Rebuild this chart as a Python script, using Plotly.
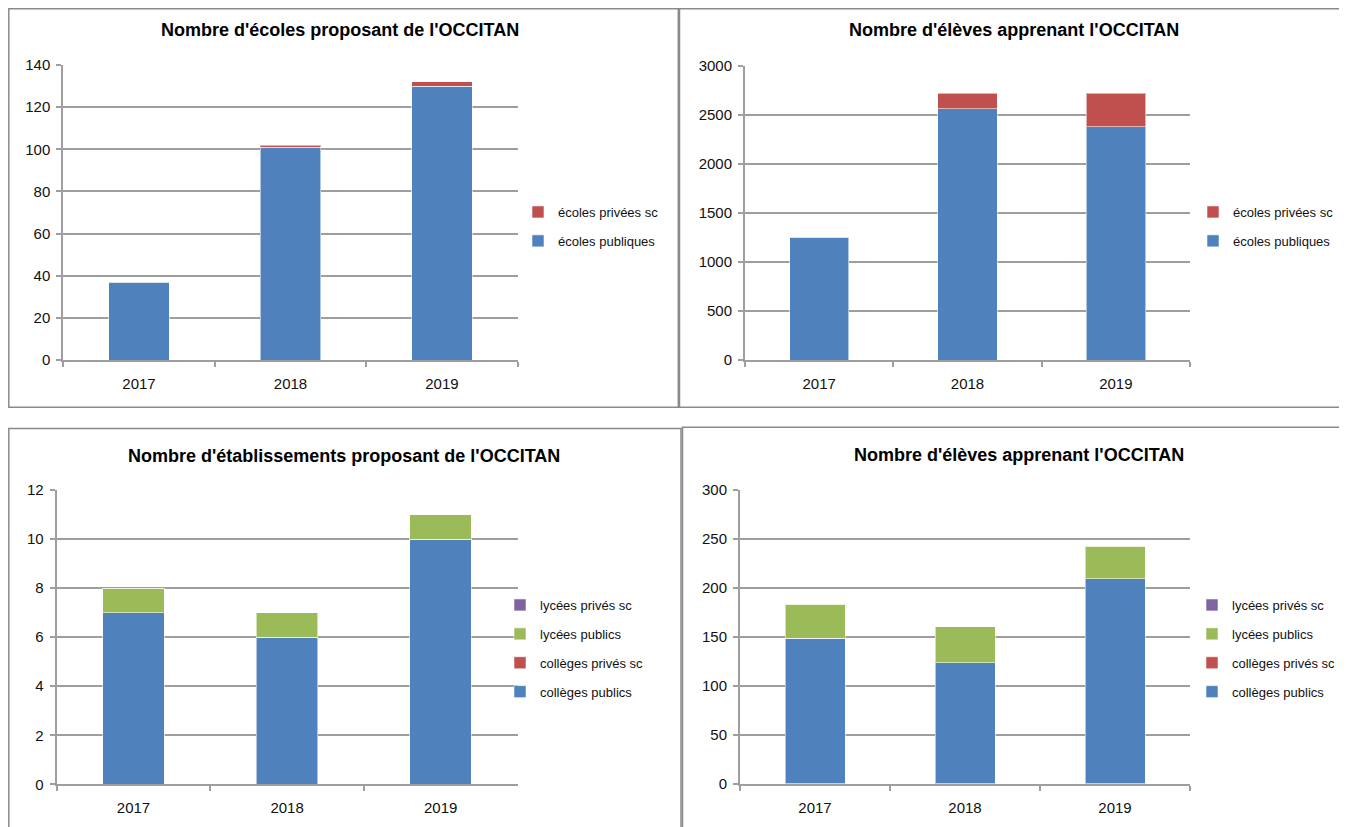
import plotly.graph_objects as go

years = ["2017", "2018", "2019"]

# Panel 1: schools offering Occitan
ecoles_publiques_nb = [37, 101, 130]
ecoles_privees_nb = [0, 1, 2]

# Panel 2: pupils (primary)
eleves_ecoles_publiques = [1250, 2562, 2378]
eleves_ecoles_privees = [0, 157, 341]

# Panel 3: secondary establishments
colleges_publics_nb = [7, 6, 10]
colleges_prives_nb = [0, 0, 0]
lycees_publics_nb = [1, 1, 1]
lycees_prives_nb = [0, 0, 0]

# Panel 4: secondary pupils
eleves_colleges_publics = [148, 123, 209]
eleves_colleges_prives = [0, 0, 0]
eleves_lycees_publics = [35, 37, 33]
eleves_lycees_prives = [0, 0, 0]

titles = ["Nombre d'écoles proposant de l'OCCITAN",
          "Nombre d'élèves apprenant l'OCCITAN",
          "Nombre d'établissements proposant de l'OCCITAN",
          "Nombre d'élèves apprenant l'OCCITAN"]

BLUE = "#4F81BD"
RED = "#C0504D"
GREEN = "#9BBB59"
PURPLE = "#8064A2"
FONT = "Liberation Sans, Arial"
OFF = 8  # page body margin
W, H = 1347 - OFF, 827 - OFF

def px(x):
    return (x - OFF) / W

def py(y):
    return 1 - (y - OFF) / H

fig = go.Figure()
gcount = [0]

def add_bar(name, vals, color, ax, leg, rank):
    gcount[0] += 1
    fig.add_trace(go.Bar(
        x=years, y=vals, name=name,
        marker=dict(color=color, line=dict(color="rgba(255,255,255,0.55)", width=1)),
        xaxis="x" + ax, yaxis="y" + ax, legend=leg, legendgroup="g%d" % gcount[0],
        legendrank=rank,
    ))

add_bar("écoles publiques", ecoles_publiques_nb, BLUE, "", "legend", 2)
add_bar("écoles privées sc", ecoles_privees_nb, RED, "", "legend", 1)

add_bar("écoles publiques", eleves_ecoles_publiques, BLUE, "2", "legend2", 2)
add_bar("écoles privées sc", eleves_ecoles_privees, RED, "2", "legend2", 1)

add_bar("collèges publics", colleges_publics_nb, BLUE, "3", "legend3", 4)
add_bar("collèges privés sc", colleges_prives_nb, RED, "3", "legend3", 3)
add_bar("lycées publics", lycees_publics_nb, GREEN, "3", "legend3", 2)
add_bar("lycées privés sc", lycees_prives_nb, PURPLE, "3", "legend3", 1)

add_bar("collèges publics", eleves_colleges_publics, BLUE, "4", "legend4", 4)
add_bar("collèges privés sc", eleves_colleges_prives, RED, "4", "legend4", 3)
add_bar("lycées publics", eleves_lycees_publics, GREEN, "4", "legend4", 2)
add_bar("lycées privés sc", eleves_lycees_prives, PURPLE, "4", "legend4", 1)

panels = [
    # (x0, x1, ytop, ybottom, ymax, dtick)
    (63.3, 517.7, 65, 360, 140, 20),
    (745, 1190, 65.5, 360, 3000, 500),
    (56.7, 517.5, 490, 784.3, 12, 2),
    (740, 1190, 489.5, 783.5, 300, 50),
]

GRID = "#9e9e9e"
axfont = dict(family=FONT, size=15, color="#111111")
layout = {}
for i, (x0, x1, yt, yb, ymax, dt) in enumerate(panels):
    s = "" if i == 0 else str(i + 1)
    layout["xaxis" + s] = dict(
        domain=[px(x0), px(x1)], anchor="y" + s, type="category",
        showline=True, linecolor=GRID, linewidth=2, tickson="boundaries",
        ticks="outside", ticklen=5, tickcolor=GRID, tickwidth=2,
        tickfont=axfont, showgrid=False, fixedrange=True, ticklabelstandoff=9,
    )
    layout["yaxis" + s] = dict(
        domain=[py(yb), py(yt)], anchor="x" + s, range=[0, ymax], dtick=dt,
        showline=True, linecolor=GRID, linewidth=2, ticks="outside",
        ticklen=5, tickcolor=GRID, tickwidth=2, tickfont=axfont,
        showgrid=True, gridcolor=GRID, gridwidth=2, zeroline=False,
        fixedrange=True, ticklabelstandoff=3,
    )

legfont = dict(family=FONT, size=13, color="#111111")
def leg(x, ytop):
    return dict(x=px(x), y=py(ytop), xanchor="left", yanchor="top",
                traceorder="grouped", font=legfont, bgcolor="rgba(0,0,0,0)",
                itemwidth=30, tracegroupgap=9)

layout["legend"] = leg(518, 197)
layout["legend2"] = leg(1193, 197)
layout["legend3"] = leg(500, 590)
layout["legend4"] = leg(1192, 590)

annotations = []
title_pos = [(340, 30), (1014, 30), (344, 456), (1019, 455)]
for t, (tx, ty) in zip(titles, title_pos):
    annotations.append(dict(text="<b>" + t + "</b>", x=px(tx), y=py(ty), xref="paper", yref="paper",
                            showarrow=False, xanchor="center", yanchor="middle",
                            font=dict(family=FONT, size=18, color="#000000")))

shapes = []
boxes = [(8.8, 8.8, 678.3, 407.3), (679.5, 8.8, 1346, 407.3), (8.8, 428.5, 681, 830), (682.5, 427.3, 1346, 830)]
for (x0, y0, x1, y1) in boxes:
    shapes.append(dict(type="rect", xref="paper", yref="paper", x0=px(x0), x1=px(x1), y0=py(y1), y1=py(y0),
                       line=dict(color="#8a8a8a", width=1.5), fillcolor="rgba(0,0,0,0)"))

fig.update_layout(
    width=W, height=H, margin=dict(l=0, r=0, t=0, b=0, autoexpand=False),
    paper_bgcolor="white", plot_bgcolor="white",
    barmode="stack", bargap=0.6, showlegend=True,
    annotations=annotations, shapes=shapes,
    **layout,
)

fig.write_html("out.html")
